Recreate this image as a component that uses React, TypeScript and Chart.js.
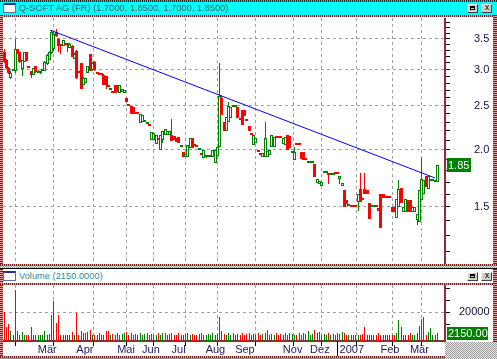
import React, { useEffect, useRef } from "react";
import { Chart, registerables } from "chart.js";
Chart.register(...registerables);

// ---------------- data ----------------
const securityName = "Q-SOFT AG (FR)";

const openPrices = [
  3.28, 3.15, 3.02, 2.88, 2.97, 2.98, 3.32, 3.28, 3.0, 3.12,
  3.28, 3.05, 2.98, 2.92, 3.05, 2.95, 2.95, 2.97, 2.98, 3.08,
  3.15, 3.26, 3.32, 3.63, 3.5, 3.38, 3.38, 3.4, 3.4, 3.35,
  3.38, 3.17, 3.3, 2.95, 3.1, 2.78, 2.8, 2.95, 3.24, 2.99,
  3.12, 2.93, 2.92, 2.92, 2.92, 2.9, 2.75, 2.71, 2.67, 2.78,
  2.76, 2.67, 2.68, 2.67, 2.6, 2.49, 2.5, 2.48, 2.4, 2.4,
  2.29, 2.3, 2.3, 2.28, 2.25, 2.1, 2.1, 2.06, 2.1, 2.0,
  2.1, 2.15, 2.16, 2.16, 2.15, 2.14, 2.12, 2.13, 2.03, 1.98,
  1.93, 1.93, 2.02, 2.12, 2.04, 2.03, 2.0, 1.95, 1.92, 1.93,
  1.93, 1.93, 1.93, 1.87, 1.94, 2.03, 2.6, 2.3, 2.2, 2.3,
  2.35, 2.48, 2.48, 2.48, 2.32, 2.45, 2.44, 2.31, 2.26, 2.15,
  2.05, 2.07, 1.98, 1.95, 1.93, 1.93, 1.93, 1.95, 2.03, 2.03,
  2.12, 2.12, 2.12, 2.06, 2.05, 2.15, 2.14, 1.97, 1.9, 2.05,
  2.05, 1.98, 1.98, 1.92, 1.87, 1.87, 1.87, 1.86, 1.69, 1.68,
  1.67, 1.78, 1.78, 1.76, 1.76, 1.76, 1.77, 1.77, 1.73, 1.67,
  1.63, 1.55, 1.51, 1.5, 1.5, 1.5, 1.54, 1.64, 1.55, 1.64,
  1.63, 1.53, 1.5, 1.5, 1.5, 1.49, 1.6, 1.6, 1.57, 1.57,
  1.57, 1.5, 1.5, 1.42, 1.5, 1.65, 1.46, 1.46, 1.55, 1.55,
  1.46, 1.46, 1.4, 1.39, 1.55, 1.6, 1.75, 1.64, 1.71, 1.71,
  1.7, 1.7,
];
const highPrices = [
  3.32, 3.16, 3.04, 2.97, 2.97, 3.5, 3.33, 3.28, 3.14, 3.28,
  3.28, 3.05, 2.98, 3.03, 3.06, 2.99, 2.98, 2.97, 3.13, 3.24,
  3.3, 3.66, 3.62, 3.68, 3.51, 3.38, 3.49, 3.4, 3.4, 3.43,
  3.39, 3.26, 3.31, 2.95, 3.1, 2.89, 2.88, 3.06, 3.25, 3.11,
  3.13, 2.93, 2.92, 2.92, 2.93, 2.9, 2.75, 2.71, 2.67, 2.78,
  2.77, 2.78, 2.72, 2.7, 2.6, 2.49, 2.5, 2.48, 2.4, 2.4,
  2.4, 2.38, 2.3, 2.28, 2.25, 2.19, 2.18, 2.15, 2.1, 2.15,
  2.2, 2.22, 2.2, 2.2, 2.34, 2.14, 2.12, 2.13, 2.03, 1.98,
  1.96, 2.05, 2.12, 2.12, 2.04, 2.03, 2.0, 1.95, 2.0, 1.94,
  1.93, 1.93, 2.0, 2.0, 2.03, 3.1, 2.62, 2.3, 2.36, 2.55,
  2.48, 2.48, 2.48, 2.48, 2.32, 2.45, 2.44, 2.31, 2.26, 2.15,
  2.15, 2.12, 1.98, 1.95, 1.97, 2.3, 1.99, 2.0, 2.15, 2.13,
  2.12, 2.12, 2.12, 2.12, 2.13, 2.15, 2.14, 1.99, 2.03, 2.05,
  2.05, 1.98, 1.98, 1.92, 1.87, 1.87, 1.87, 1.86, 1.73, 1.71,
  1.7, 1.78, 1.78, 1.76, 1.78, 1.78, 1.77, 1.77, 1.75, 1.69,
  1.63, 1.55, 1.51, 1.5, 1.5, 1.5, 1.6, 1.78, 1.55, 1.78,
  1.63, 1.53, 1.5, 1.5, 1.5, 1.49, 1.6, 1.6, 1.57, 1.57,
  1.57, 1.5, 1.5, 1.56, 1.72, 1.65, 1.5, 1.56, 1.55, 1.55,
  1.5, 1.5, 1.45, 1.63, 1.92, 1.72, 1.75, 1.75, 1.71, 1.71,
  1.7, 1.85,
];
const lowPrices = [
  3.1, 3.0, 2.93, 2.86, 2.97, 2.95, 3.24, 3.1, 2.9, 3.11,
  3.13, 3.03, 2.88, 2.92, 2.95, 2.95, 2.93, 2.97, 2.97, 3.07,
  3.14, 3.25, 3.3, 3.54, 3.27, 3.25, 3.37, 3.4, 3.27, 3.34,
  3.2, 3.16, 2.86, 2.95, 2.72, 2.77, 2.8, 2.94, 2.97, 2.98,
  2.98, 2.93, 2.92, 2.92, 2.78, 2.72, 2.75, 2.71, 2.67, 2.67,
  2.68, 2.66, 2.68, 2.67, 2.55, 2.49, 2.4, 2.4, 2.4, 2.4,
  2.29, 2.3, 2.3, 2.28, 2.25, 2.1, 2.1, 2.06, 2.1, 2.0,
  2.07, 2.15, 2.16, 2.16, 2.09, 2.1, 2.08, 2.07, 2.03, 1.93,
  1.93, 1.93, 2.02, 2.02, 2.04, 2.03, 2.0, 1.95, 1.92, 1.92,
  1.93, 1.93, 1.93, 1.87, 1.94, 2.03, 2.38, 2.2, 2.2, 2.3,
  2.35, 2.48, 2.48, 2.35, 2.32, 2.27, 2.37, 2.31, 2.2, 2.15,
  2.05, 2.07, 1.98, 1.95, 1.93, 1.93, 1.93, 1.95, 2.03, 2.03,
  2.12, 2.12, 2.12, 2.06, 2.05, 2.0, 2.02, 1.97, 1.9, 2.05,
  2.05, 1.91, 1.9, 1.9, 1.87, 1.87, 1.87, 1.74, 1.69, 1.68,
  1.67, 1.78, 1.78, 1.68, 1.76, 1.76, 1.77, 1.77, 1.68, 1.67,
  1.5, 1.52, 1.51, 1.5, 1.5, 1.5, 1.47, 1.54, 1.55, 1.6,
  1.6, 1.41, 1.5, 1.5, 1.5, 1.47, 1.35, 1.57, 1.57, 1.57,
  1.57, 1.46, 1.46, 1.42, 1.5, 1.53, 1.46, 1.46, 1.46, 1.46,
  1.46, 1.46, 1.37, 1.39, 1.55, 1.6, 1.66, 1.64, 1.71, 1.71,
  1.7, 1.7,
];
const closePrices = [
  3.12, 3.02, 2.95, 2.95, 2.97, 3.32, 3.25, 3.12, 3.14, 3.28,
  3.13, 3.03, 2.92, 3.02, 2.96, 2.98, 2.97, 2.97, 3.12, 3.22,
  3.28, 3.62, 3.58, 3.55, 3.38, 3.38, 3.48, 3.4, 3.4, 3.42,
  3.2, 3.25, 2.87, 2.95, 2.72, 2.88, 2.87, 3.05, 2.98, 3.1,
  2.99, 2.93, 2.92, 2.92, 2.78, 2.78, 2.75, 2.71, 2.67, 2.67,
  2.68, 2.78, 2.72, 2.7, 2.55, 2.49, 2.4, 2.4, 2.4, 2.4,
  2.4, 2.38, 2.3, 2.28, 2.25, 2.19, 2.18, 2.15, 2.1, 2.15,
  2.2, 2.22, 2.2, 2.2, 2.09, 2.1, 2.08, 2.07, 2.03, 1.93,
  1.96, 2.05, 2.12, 2.02, 2.04, 2.03, 2.0, 1.95, 2.0, 1.94,
  1.93, 1.93, 2.0, 2.0, 2.03, 2.63, 2.38, 2.2, 2.36, 2.5,
  2.48, 2.48, 2.48, 2.35, 2.32, 2.27, 2.37, 2.31, 2.2, 2.15,
  2.15, 2.12, 1.98, 1.95, 1.97, 2.12, 1.99, 2.0, 2.15, 2.13,
  2.12, 2.12, 2.12, 2.12, 2.13, 2.0, 2.02, 1.99, 1.98, 2.05,
  2.05, 1.91, 1.9, 1.9, 1.87, 1.87, 1.87, 1.74, 1.73, 1.71,
  1.7, 1.78, 1.78, 1.76, 1.78, 1.78, 1.77, 1.77, 1.75, 1.69,
  1.5, 1.52, 1.51, 1.5, 1.5, 1.5, 1.6, 1.54, 1.55, 1.6,
  1.6, 1.41, 1.5, 1.5, 1.5, 1.47, 1.35, 1.57, 1.57, 1.57,
  1.57, 1.46, 1.46, 1.56, 1.64, 1.53, 1.5, 1.56, 1.46, 1.46,
  1.5, 1.5, 1.45, 1.63, 1.73, 1.72, 1.66, 1.75, 1.71, 1.71,
  1.7, 1.85,
];
// G = up candle (hollow green), R = down candle (filled red)
const candleDirection =
  "RRRGGGRRGG" + "RRRGRGGGGG" + "GGGRRRGRRG" + "RGRRRGGGRG" + "RRRRRRRGRR" +
  "RGGGRRRRRR" + "GGGGRGGGRG" + "GGGGRRRRGR" + "GGGRRRGRGG" + "GGGGGGRRGG" +
  "GGGRRRRRRR" + "GGRRGGGGGG" + "RRRGGRRGGR" + "RRRRGGGRGG" + "GGGRGGRRGG" +
  "RRGRRRGRRR" + "RRGGRRRRRR" + "RRRGGRGGRR" + "GGGGGGRGGG" + "GG";
const volumes = [
  20500, 7700, 10000, 4000, 500, 39000, 4000, 500, 3200, 500,
  300, 500, 7700, 500, 500, 600, 600, 600, 4300, 500,
  1450, 17700, 29700, 11100, 17700, 600, 600, 600, 300, 600,
  3400, 600, 19100, 600, 4300, 2600, 2600, 3400, 4900, 600,
  500, 500, 2600, 600, 600, 4300, 4000, 600, 1450, 600,
  2600, 600, 1450, 2600, 3400, 600, 2100, 600, 1450, 600,
  2100, 600, 1450, 2100, 600, 1450, 600, 600, 2100, 600,
  2600, 2600, 600, 1450, 2600, 600, 600, 2100, 600, 600,
  1450, 2600, 600, 1450, 600, 600, 1450, 2100, 600, 600,
  1450, 600, 2100, 600, 1450, 15700, 4000, 1450, 600, 2100,
  600, 2600, 600, 1450, 600, 2100, 600, 1450, 2600, 600,
  1450, 600, 2100, 600, 1450, 2600, 4900, 600, 1450, 600,
  2100, 600, 1450, 600, 2100, 600, 2600, 1450, 600, 600,
  2100, 600, 2100, 1450, 4300, 600, 1450, 4900, 2600, 3400,
  600, 1450, 600, 2100, 600, 1450, 600, 2600, 1450, 2900,
  2000, 300, 300, 600, 600, 300, 300, 600, 1450, 7400,
  600, 300, 300, 600, 600, 2000, 300, 300, 300, 300,
  300, 300, 600, 2600, 13400, 7700, 600, 300, 600, 2600,
  600, 600, 2600, 8300, 14000, 16300, 600, 3400, 6300, 600,
  600, 2150,
];
// index of the first trading day of each labelled month
const monthStarts = [14, 31, 49, 60, 73, 88, 101, 122, 134, 147, 165, 178];
const monthLabels = ["Mär", "Apr", "Mai", "Jun", "Jul", "Aug", "Sep", "Nov", "Dez", "2007", "Feb", "Mär"];
const priceMajorTicks = [1.5, 2.0, 2.5, 3.0, 3.5];
const priceMinorTicks = [1.2, 1.3, 1.4, 1.6, 1.7, 1.8, 1.9, 2.1, 2.2, 2.3, 2.4, 2.6, 2.7, 2.8, 2.9, 3.1, 3.2, 3.3, 3.4, 3.6, 3.7, 3.8];
const volumeTicks = [10000, 20000, 30000, 40000];
const volumeLabelledTicks = [20000];
// trend line end points (candle index, price)
const trendX = [20.3, 189.9];
const trendY = [3.66, 1.735];

// ---------------- styling constants ----------------
const GREEN = "#008000";
const RED = "#ff0000";
const GRID = "#a0a0a0";
const AXIS_RED = "#8b3030";
const FONT = "'Liberation Sans', Arial, sans-serif";
const X_MIN = -0.45;
const X_MAX = 194.3;
const PRICE_MIN = 1.124;
const PRICE_MAX = 3.89;
const VOL_MIN = -4530;
const VOL_MAX = 43350;
const RED_DOTS_H = "repeating-linear-gradient(90deg, #7a2020 0px, #7a2020 1px, #d8a0a0 1px, #d8a0a0 2px)";
const RED_DOTS_V = "repeating-linear-gradient(180deg, #7a2020 0px, #7a2020 1px, #d8a0a0 1px, #d8a0a0 2px)";
const HATCH = "repeating-conic-gradient(#a0a0a0 0% 25%, #e4e4e4 0% 50%) 0 0 / 2px 2px";

const isUp = (i: number) => candleDirection[i] === "G";

// snap bar elements to whole pixels so candles and volume bars render crisp
const pixelSnap = {
  id: "pixelSnap",
  beforeDatasetsDraw(chart: any) {
    chart.data.datasets.forEach((_ds: any, i: number) => {
      const meta = chart.getDatasetMeta(i);
      if (meta.type !== "bar") return;
      meta.data.forEach((el: any) => {
        const w = Math.round(el.width);
        el.x = w % 2 === 1 ? Math.floor(el.x) + 0.5 : Math.round(el.x);
        el.y = Math.round(el.y);
        el.base = Math.round(el.base);
      });
    });
  },
};

function valueBox(value: number, text: string, w: number, h: number) {
  return {
    id: "valueBox",
    afterDraw(chart: any) {
      const s = chart.scales.y;
      const ctx = chart.ctx;
      const cy = s.getPixelForValue(value);
      const top = Math.round(cy - h / 2);
      ctx.save();
      ctx.fillStyle = GREEN;
      ctx.fillRect(s.left + 2, top, w, h);
      ctx.fillStyle = "#ffffff";
      ctx.font = `11px ${FONT}`;
      ctx.textBaseline = "middle";
      ctx.textAlign = "left";
      ctx.fillText(text, s.left + 3, top + h / 2 + 0.5);
      ctx.restore();
    },
  };
}

const yearTick = {
  id: "yearTick",
  afterDraw(chart: any) {
    const xs = chart.scales.x;
    const k = monthLabels.indexOf("2007");
    const px = Math.round(xs.getPixelForValue(monthStarts[k] - 0.5)) + 0.5;
    const ctx = chart.ctx;
    ctx.save();
    ctx.strokeStyle = "#000";
    ctx.lineWidth = 1;
    ctx.beginPath();
    ctx.moveTo(px, chart.chartArea.bottom);
    ctx.lineTo(px, chart.height);
    ctx.stroke();
    ctx.restore();
  },
};

const Btn = ({ left, top, kind }: { left: number; top: number; kind: string }) => (
  <div
    style={{
      position: "absolute", left, top, width: 11, height: 9, boxSizing: "border-box",
      background: "#d4d0c8", borderTop: "1px solid #fff", borderLeft: "1px solid #fff",
      borderRight: "1px solid #404040", borderBottom: "1px solid #404040",
    }}
  >
    {kind === "max" ? (
      <div style={{ position: "absolute", left: 2, top: 1, width: 5, height: 4, boxSizing: "border-box", border: "1px solid #000", borderTopWidth: 2 }} />
    ) : (
      <div style={{ position: "absolute", left: 1, top: -3, width: 8, fontSize: 9, lineHeight: "11px", fontFamily: FONT, textAlign: "center", color: "#000" }}>x</div>
    )}
  </div>
);

const Icon = ({ top }: { top: number }) => (
  <div style={{ position: "absolute", left: 3, top, width: 13, height: 10, boxSizing: "border-box", background: "#fff", border: "1px solid #6070a0", borderTop: "2px solid #203090" }} />
);

const abs = (left: number, top: number, width: number, height: number, background: string, extra: any = {}) => (
  <div style={{ position: "absolute", left, top, width, height, background, ...extra }} />
);

export default function App() {
  const priceRef = useRef<HTMLCanvasElement>(null);
  const volRef = useRef<HTMLCanvasElement>(null);

  useEffect(() => {
    const bodies = closePrices.map((c, i) => ({ x: i, y: [Math.min(openPrices[i], c), Math.max(openPrices[i], c)] }));
    const wicks = closePrices.map((c, i) => ({ x: i, y: [lowPrices[i], highPrices[i]] }));
    const colors = closePrices.map((_, i) => (isUp(i) ? GREEN : RED));
    const fills = closePrices.map((_, i) => (isUp(i) ? "#ffffff" : RED));
    const monthTickValues = monthStarts.map((m) => m - 0.5);
    const last = closePrices.length - 1;

    const xScaleCommon: any = {
      type: "linear",
      min: X_MIN,
      max: X_MAX,
      offset: false,
      afterBuildTicks: (s: any) => {
        s.ticks = monthTickValues.map((v) => ({ value: v }));
      },
    };

    const priceChart = new Chart(priceRef.current as HTMLCanvasElement, {
      type: "bar",
      data: {
        datasets: [
          {
            type: "line",
            data: trendX.map((x, i) => ({ x, y: trendY[i] })),
            borderColor: "#0000ff",
            borderWidth: 1,
            pointRadius: 0,
            order: 0,
          } as any,
          {
            type: "bar",
            data: bodies,
            backgroundColor: fills,
            borderColor: colors,
            borderWidth: 1,
            borderSkipped: false,
            barThickness: 3,
            minBarLength: 2,
            grouped: false,
            inflateAmount: 0,
            order: 1,
          } as any,
          {
            type: "bar",
            data: wicks,
            backgroundColor: colors,
            borderWidth: 0,
            barThickness: 1,
            grouped: false,
            inflateAmount: 0,
            order: 2,
          } as any,
        ],
      },
      options: {
        responsive: false,
        animation: false,
        maintainAspectRatio: false,
        layout: { padding: 0 },
        plugins: { legend: { display: false }, tooltip: { enabled: false } },
        scales: {
          x: {
            ...xScaleCommon,
            ticks: { display: false, autoSkip: false },
            grid: { color: GRID, drawTicks: false, lineWidth: 1, borderDash: [3, 3] },
            border: { display: false, dash: [3, 3] },
            afterFit: (s: any) => {
              s.height = 0;
              s.paddingLeft = 0;
              s.paddingRight = 0;
            },
          },
          y: {
            type: "logarithmic",
            position: "right",
            min: PRICE_MIN,
            max: PRICE_MAX,
            afterBuildTicks: (s: any) => {
              s.ticks = [...priceMinorTicks, ...priceMajorTicks].sort((a, b) => a - b).map((v) => ({ value: v }));
            },
            afterFit: (s: any) => {
              s.width = 48;
              s.paddingTop = 0;
              s.paddingBottom = 0;
            },
            ticks: {
              autoSkip: false,
              callback: (v: any) => (priceMajorTicks.includes(v) ? Number(v).toFixed(1) : ""),
              color: "#101040",
              font: { family: FONT, size: 11 },
              padding: 24,
              crossAlign: "near",
            },
            grid: {
              color: (ctx: any) => (ctx.tick && priceMajorTicks.includes(ctx.tick.value) ? GRID : "rgba(0,0,0,0)"),
              tickColor: "#000",
              tickLength: 5,
              tickBorderDash: [],
              borderDash: [3, 3],
              lineWidth: 1,
            },
            border: { display: true, color: AXIS_RED, width: 2, dash: [3, 3] },
          },
        },
      } as any,
      plugins: [pixelSnap, valueBox(closePrices[last], closePrices[last].toFixed(2), 24, 14)],
    });

    const volChart = new Chart(volRef.current as HTMLCanvasElement, {
      type: "bar",
      data: {
        datasets: [
          {
            data: volumes.map((v, i) => ({ x: i, y: v })),
            backgroundColor: colors,
            borderWidth: 0,
            barThickness: 1,
            grouped: false,
            inflateAmount: 0,
            base: VOL_MIN,
          } as any,
        ],
      },
      options: {
        responsive: false,
        animation: false,
        maintainAspectRatio: false,
        layout: { padding: 0 },
        plugins: { legend: { display: false }, tooltip: { enabled: false } },
        scales: {
          x: {
            ...xScaleCommon,
            ticks: {
              autoSkip: false,
              maxRotation: 0,
              minRotation: 0,
              align: "start",
              padding: -3,
              color: "#1c1c5c",
              font: { family: FONT, size: 11 },
              callback: (_v: any, idx: number) => " " + monthLabels[idx],
            },
            grid: { color: GRID, tickColor: "#000", tickLength: 5, tickBorderDash: [], borderDash: [3, 3], lineWidth: 1 },
            border: { display: true, color: AXIS_RED, width: 2, dash: [3, 3] },
            afterFit: (s: any) => {
              s.height = 16;
              s.paddingLeft = 0;
              s.paddingRight = 0;
            },
          },
          y: {
            type: "linear",
            position: "right",
            min: VOL_MIN,
            max: VOL_MAX,
            afterBuildTicks: (s: any) => {
              s.ticks = volumeTicks.map((v) => ({ value: v }));
            },
            afterFit: (s: any) => {
              s.width = 48;
              s.paddingTop = 0;
              s.paddingBottom = 0;
            },
            ticks: {
              autoSkip: false,
              callback: (v: any) => (volumeLabelledTicks.includes(v) ? String(v) : ""),
              color: "#101040",
              font: { family: FONT, size: 11 },
              padding: 9,
              crossAlign: "near",
            },
            grid: {
              color: (ctx: any) => (ctx.tick && volumeLabelledTicks.includes(ctx.tick.value) ? GRID : "rgba(0,0,0,0)"),
              tickColor: "#000",
              tickLength: 5,
              tickBorderDash: [],
              borderDash: [3, 3],
              lineWidth: 1,
            },
            border: { display: true, color: AXIS_RED, width: 2, dash: [3, 3] },
          },
        },
      } as any,
      plugins: [pixelSnap, valueBox(volumes[last], volumes[last].toFixed(2), 41, 13), yearTick],
    });

    return () => {
      priceChart.destroy();
      volChart.destroy();
    };
  }, []);

  const last = closePrices.length - 1;
  const title = `${securityName} (${openPrices[last].toFixed(4)}, ${highPrices[last].toFixed(4)}, ${lowPrices[last].toFixed(4)}, ${closePrices[last].toFixed(4)})`;
  const volTitle = `Volume (${volumes[last].toFixed(4)})`;
  const textStyle: any = { position: "absolute", left: 19, fontFamily: FONT, fontSize: 9.3, whiteSpace: "nowrap" };

  return (
    <div style={{ position: "fixed", left: 0, top: 0, width: 497, height: 359, background: "#ffffff", overflow: "hidden" }}>
      {abs(0, 0, 497, 2, "repeating-linear-gradient(90deg, #303030 0px, #303030 1px, #909090 1px, #909090 2px)")}
      {abs(0, 2, 497, 13, "#00ffff")}
      <Icon top={3} />
      <div style={{ ...textStyle, top: 2, height: 13, lineHeight: "13px", color: "#4b6464" }}>{title}</div>
      <Btn left={467} top={4} kind="max" />
      <Btn left={481} top={4} kind="close" />
      {abs(0, 15, 497, 2, RED_DOTS_H)}
      {abs(0, 15, 3, 344, RED_DOTS_V)}
      {abs(493, 15, 4, 254, RED_DOTS_V)}
      <canvas ref={priceRef} width={490} height={246} style={{ position: "absolute", left: 3, top: 18 }} />
      {abs(0, 264, 497, 2, RED_DOTS_H)}
      {abs(0, 266, 497, 2, HATCH)}
      {abs(0, 268, 497, 1, "#000")}
      <Icon top={271} />
      <div style={{ ...textStyle, top: 270, height: 13, lineHeight: "13px", color: "#2f8f8f" }}>{volTitle}</div>
      <Btn left={467} top={272} kind="max" />
      <Btn left={481} top={272} kind="close" />
      {abs(0, 283, 493, 2, RED_DOTS_H)}
      {abs(493, 269, 4, 73, RED_DOTS_V)}
      <canvas ref={volRef} width={490} height={72} style={{ position: "absolute", left: 3, top: 285 }} />
      {abs(0, 356, 445, 2, RED_DOTS_H)}
      {abs(0, 358, 497, 1, "#909090")}
      {abs(445, 342, 52, 17, HATCH)}
    </div>
  );
}
